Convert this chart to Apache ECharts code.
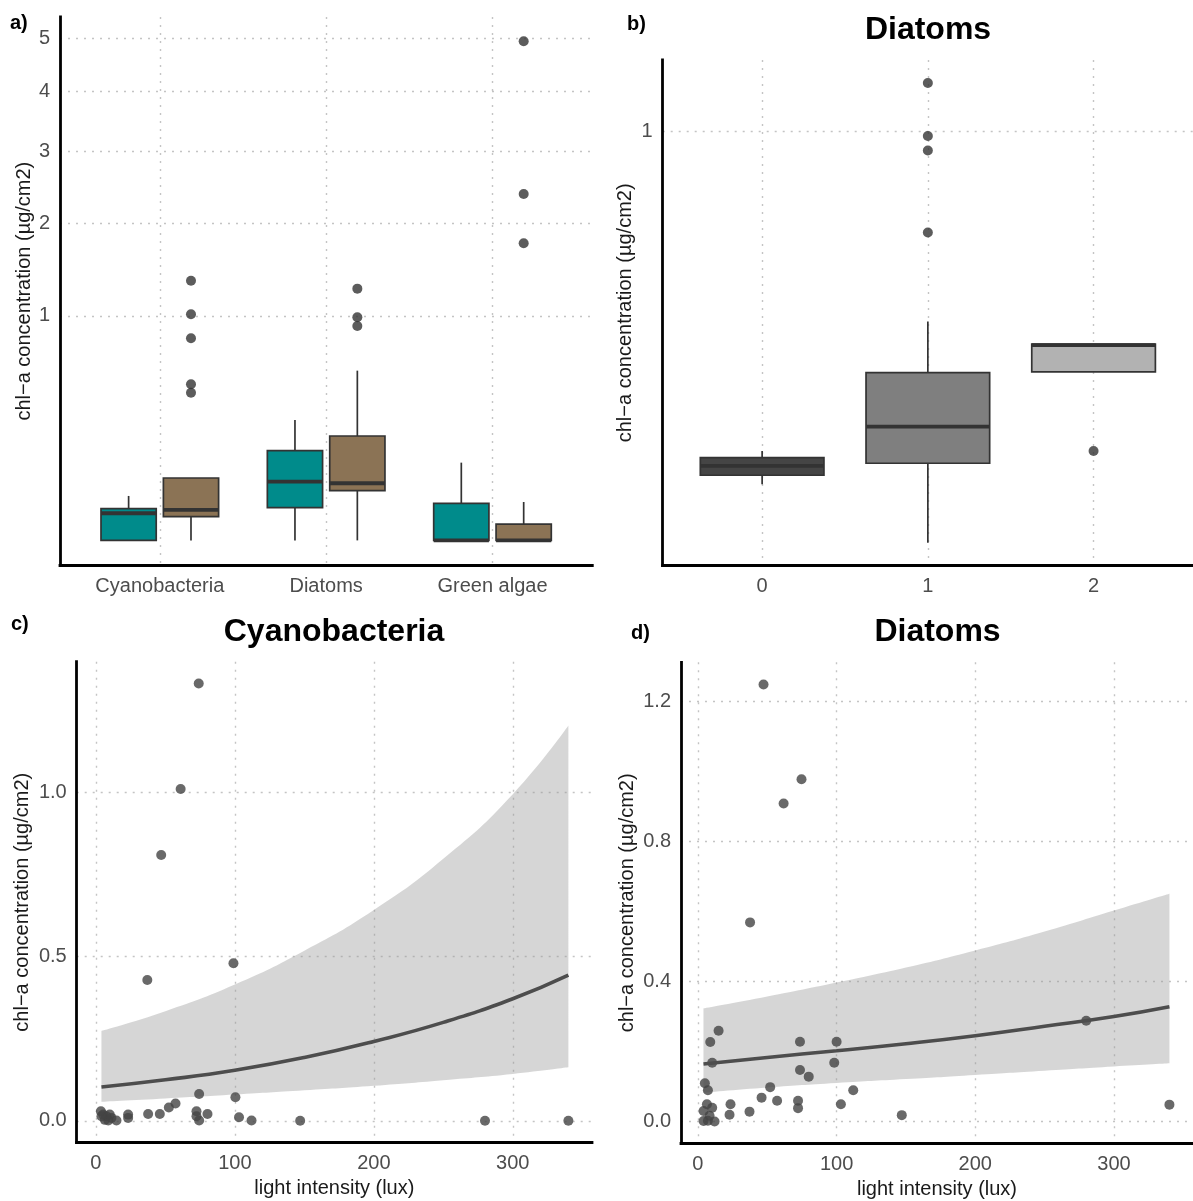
<!DOCTYPE html>
<html>
<head>
<meta charset="utf-8">
<script src="https://cdn.jsdelivr.net/npm/echarts@6/dist/echarts.min.js"></script>
<style>
  html, body { margin: 0; padding: 0; background: #ffffff; }
  #chart { width: 1193px; height: 1201px; }
</style>
</head>
<body>
<div id="chart"></div>
<script>
// ---------- Panel a: chl-a per algal group, two sample sets ----------
const groupsA = ['Cyanobacteria', 'Diatoms', 'Green algae'];
// five-number summaries: [lower whisker, Q1, median, Q3, upper whisker] (µg/cm2)
const tealStatsA = [
  [0, 0, 0.0146, 0.020, 0.0392],
  [0, 0.0212, 0.0684, 0.160, 0.288],
  [0, 0, 0, 0.0273, 0.120]
];
const brownStatsA = [
  [0, 0.0112, 0.0184, 0.0773, 0.0773],
  [0, 0.049, 0.0648, 0.2164, 0.572],
  [0, 0, 0, 0.0053, 0.0293]
];
const brownOutlierGroupA = [0, 0, 0, 0, 0, 1, 1, 1, 2, 2, 2];
const brownOutlierValueA = [1.339, 1.015, 0.811, 0.484, 0.433, 1.258, 0.988, 0.913, 4.947, 2.383, 1.753];
const yTicksA = [1, 2, 3, 4, 5];

// ---------- Panel b: diatoms per light level ----------
const levelsB = ['0', '1', '2'];
const statsB = [
  [0.0202, 0.0269, 0.0348, 0.0428, 0.0498],
  [0, 0.0373, 0.0797, 0.171, 0.289],
  [0.1725, 0.1725, 0.2307, 0.233, 0.233]
];
const outlierLevelB = [1, 1, 1, 1, 2];
const outlierValueB = [1.249, 0.978, 0.909, 0.569, 0.0498];
const yTicksB = [1];

// ---------- Panel c: cyanobacteria vs light ----------
const luxC = [74, 61, 47, 99, 37, 74.3, 100.4, 57.3, 52.5, 46, 37.6, 23.2, 23.2, 72.4, 72.4, 74.3, 80.3, 103, 112,
  147, 280, 340, 3.6, 5.3, 7.6, 10, 11.2, 6.5, 14.8, 8.9, 4];
const chlC = [1.332, 1.011, 0.81, 0.48, 0.429, 0.082, 0.072, 0.053, 0.0405, 0.021, 0.021, 0.019, 0.009, 0.029, 0.014, 0.001, 0.021, 0.011, 0.001,
  0, 0, 0, 0.029, 0.019, 0.014, 0.019, 0.009, 0.003, 0.001, 0.001, 0.014];
const fitLuxC = [4, 50, 100, 150, 200, 250, 300, 340];
const fitC = [0.103, 0.125, 0.154, 0.193, 0.242, 0.300, 0.372, 0.444];
const lowerC = [0.058, 0.068, 0.080, 0.093, 0.107, 0.124, 0.143, 0.163];
const upperC = [0.274, 0.334, 0.415, 0.518, 0.642, 0.798, 0.995, 1.204];
const yTicksC = [0, 0.5, 1.0];
const xTicksLux = [0, 100, 200, 300];

// ---------- Panel d: diatoms vs light ----------
const luxD = [47.3, 74.7, 61.8, 37.6, 280, 340, 147, 14.9, 8.9, 10.3, 73.6, 100, 98.3, 73.6, 79.9, 5, 7.2, 52.1, 45.9,
  57.1, 72.2, 72.2, 112, 103.1, 23.5, 22.8, 37.2, 6.5, 10.3, 4.1, 4.1, 7.2, 12, 8.4];
const chlD = [1.249, 0.978, 0.909, 0.569, 0.288, 0.048, 0.018, 0.259, 0.227, 0.168, 0.228, 0.228, 0.168, 0.147, 0.128, 0.109, 0.089, 0.098, 0.068,
  0.059, 0.059, 0.038, 0.089, 0.049, 0.049, 0.019, 0.028, 0.049, 0.039, 0.03, 0.001, 0.002, 0, 0.016];
const fitLuxD = [4, 50, 100, 150, 200, 250, 300, 340];
const fitD = [0.164, 0.183, 0.202, 0.222, 0.245, 0.272, 0.300, 0.328];
const lowerD = [0.082, 0.097, 0.110, 0.121, 0.133, 0.145, 0.157, 0.166];
const upperD = [0.323, 0.357, 0.397, 0.440, 0.489, 0.543, 0.603, 0.651];
const yTicksD = [0, 0.4, 0.8, 1.2];

// ---------- styling ----------
const FONT = '"Liberation Sans", Arial, Helvetica, sans-serif';
const TEAL = '#008b8b';
const BROWN = '#8b7355';
const GREYS_B = ['#454545', '#7f7f7f', '#b2b2b2'];
const INK = '#333333';
const POINT = '#444444';
const LABEL = '#4d4d4d';

const sq = Math.sqrt;
const zip = (xs, ys) => xs.map((x, i) => [x, ys[i]]);

function xAxisCfg(gridIndex, min, max, ticks, fmt, name) {
  return {
    type: 'value', gridIndex, min, max,
    name: name || '', nameLocation: 'middle', nameGap: 36,
    nameTextStyle: { fontFamily: FONT, fontSize: 20, color: '#1a1a1a' },
    axisLine: { show: true, onZero: false, lineStyle: { color: '#000', width: 2.8, cap: 'square' } },
    axisTick: { show: false, customValues: ticks },
    axisLabel: { customValues: ticks, formatter: fmt, margin: 11, fontFamily: FONT, fontSize: 20, color: LABEL },
    splitLine: { show: true, lineStyle: { color: '#c4c4c4', width: 1.4, type: [2, 6] } }
  };
}
function yAxisCfg(gridIndex, min, max, ticks, fmt, nameGap) {
  return {
    type: 'value', gridIndex, min, max,
    name: 'chl\u2212a concentration (\u00b5g/cm2)', nameLocation: 'middle', nameGap,
    nameTextStyle: { fontFamily: FONT, fontSize: 20, color: '#1a1a1a' },
    axisLine: { show: true, onZero: false, lineStyle: { color: '#000', width: 2.8, cap: 'square' } },
    axisTick: { show: false, customValues: ticks },
    axisLabel: { customValues: ticks, formatter: fmt, margin: 10, fontFamily: FONT, fontSize: 20, color: LABEL },
    splitLine: { show: true, lineStyle: { color: '#c4c4c4', width: 1.4, type: [2, 6] } }
  };
}

// box + whiskers drawn in data space through the axis scales (values already square-rooted)
function boxRenderer(offset, halfW, fillOf) {
  return function (params, api) {
    const x = api.value(0) + offset;
    const lo = api.value(1), q1 = api.value(2), med = api.value(3), q3 = api.value(4), hi = api.value(5);
    const tl = api.coord([x - halfW, q3]);
    const br = api.coord([x + halfW, q1]);
    const pHi = api.coord([x, hi]), pQ3 = api.coord([x, q3]);
    const pQ1 = api.coord([x, q1]), pLo = api.coord([x, lo]);
    const mL = api.coord([x - halfW, med]), mR = api.coord([x + halfW, med]);
    const thin = { stroke: INK, lineWidth: 1.7 };
    return {
      type: 'group',
      children: [
        { type: 'line', shape: { x1: pHi[0], y1: pHi[1], x2: pQ3[0], y2: pQ3[1] }, style: thin },
        { type: 'line', shape: { x1: pQ1[0], y1: pQ1[1], x2: pLo[0], y2: pLo[1] }, style: thin },
        { type: 'rect', shape: { x: tl[0], y: tl[1], width: br[0] - tl[0], height: br[1] - tl[1] },
          style: { fill: fillOf(params.dataIndex), stroke: INK, lineWidth: 1.7 } },
        { type: 'line', shape: { x1: mL[0], y1: mL[1], x2: mR[0], y2: mR[1] }, style: { stroke: INK, lineWidth: 3.8 } }
      ]
    };
  };
}
const boxData = stats => stats.map((s, i) => [i].concat(s.map(sq)));

// confidence band: the y column comes first so that the stack is applied to y
function ribbonSeries(idx, xs, lower, upper) {
  const common = {
    type: 'line', xAxisIndex: idx, yAxisIndex: idx, stack: 'band' + idx, smooth: true,
    symbol: 'none', silent: true, encode: { x: 1, y: 0 }, z: 1
  };
  return [
    Object.assign({}, common, { lineStyle: { opacity: 0 }, data: xs.map((x, i) => [lower[i], x]) }),
    Object.assign({}, common, {
      lineStyle: { opacity: 0 }, areaStyle: { color: 'rgba(153,153,153,0.4)', opacity: 1 },
      data: xs.map((x, i) => [upper[i] - lower[i], x])
    })
  ];
}

const textEl = (text, x, y, size, bold, align) => ({
  type: 'text', x, y,
  style: { text, fontFamily: FONT, fontSize: size, fontWeight: bold ? 'bold' : 'normal',
           fill: '#000', textAlign: align || 'center', textVerticalAlign: 'middle' }
});

const option = {
  animation: false,
  backgroundColor: '#ffffff',
  grid: [
    { left: 60, top: 17, width: 532.3, height: 548.3 },
    { left: 662.7, top: 60, width: 532, height: 505.7 },
    { left: 76.7, top: 661.7, width: 515.3, height: 481 },
    { left: 681, top: 662.3, width: 513.2, height: 481 }
  ],
  xAxis: [
    xAxisCfg(0, -0.6, 2.6, [0, 1, 2], v => groupsA[Math.round(v)]),
    xAxisCfg(1, -0.6, 2.6, [0, 1, 2], v => levelsB[Math.round(v)]),
    xAxisCfg(2, -13.8, 357, xTicksLux, v => String(v), 'light intensity (lux)'),
    xAxisCfg(3, -12.2, 357, xTicksLux, v => String(v), 'light intensity (lux)')
  ],
  yAxis: [
    yAxisCfg(0, -0.111, 2.332, yTicksA.map(sq), v => String(Math.round(v * v)), 26),
    yAxisCfg(1, -0.0559, 1.1735, yTicksB.map(sq), v => String(Math.round(v * v)), 27),
    yAxisCfg(2, -0.0666, 1.3986, yTicksC, v => v.toFixed(1), 44),
    yAxisCfg(3, -0.0625, 1.3125, yTicksD, v => v.toFixed(1), 44)
  ],
  graphic: { elements: [
    textEl('a)', 10, 23, 20, true, 'left'),
    textEl('b)', 627, 24, 20, true, 'left'),
    textEl('c)', 11, 624, 20, true, 'left'),
    textEl('d)', 631, 633, 20, true, 'left'),
    textEl('Diatoms', 928, 30, 32, true),
    textEl('Cyanobacteria', 334, 632, 32, true),
    textEl('Diatoms', 937.5, 632, 32, true)
  ] },
  series: [
    // panel a
    { type: 'custom', xAxisIndex: 0, yAxisIndex: 0, renderItem: boxRenderer(-0.1875, 0.166, () => TEAL),
      data: boxData(tealStatsA), z: 2 },
    { type: 'custom', xAxisIndex: 0, yAxisIndex: 0, renderItem: boxRenderer(0.1875, 0.166, () => BROWN),
      data: boxData(brownStatsA), z: 2 },
    { type: 'scatter', xAxisIndex: 0, yAxisIndex: 0, symbolSize: 10, itemStyle: { color: INK },
      data: brownOutlierGroupA.map((g, i) => [g + 0.1875, sq(brownOutlierValueA[i])]), z: 3 },
    // panel b
    { type: 'custom', xAxisIndex: 1, yAxisIndex: 1, renderItem: boxRenderer(0, 0.373, i => GREYS_B[i]),
      data: boxData(statsB), z: 2 },
    { type: 'scatter', xAxisIndex: 1, yAxisIndex: 1, symbolSize: 10, itemStyle: { color: INK },
      data: outlierLevelB.map((g, i) => [g, sq(outlierValueB[i])]), z: 3 },
    // panel c
    ...ribbonSeries(2, fitLuxC, lowerC, upperC),
    { type: 'scatter', xAxisIndex: 2, yAxisIndex: 2, symbolSize: 10, itemStyle: { color: POINT },
      data: zip(luxC, chlC), z: 3 },
    { type: 'line', xAxisIndex: 2, yAxisIndex: 2, smooth: true, symbol: 'none',
      lineStyle: { color: '#4d4d4d', width: 3.6 }, data: zip(fitLuxC, fitC), z: 4 },
    // panel d
    ...ribbonSeries(3, fitLuxD, lowerD, upperD),
    { type: 'scatter', xAxisIndex: 3, yAxisIndex: 3, symbolSize: 10, itemStyle: { color: POINT },
      data: zip(luxD, chlD), z: 3 },
    { type: 'line', xAxisIndex: 3, yAxisIndex: 3, smooth: true, symbol: 'none',
      lineStyle: { color: '#4d4d4d', width: 3.6 }, data: zip(fitLuxD, fitD), z: 4 }
  ]
};

const chart = echarts.init(document.getElementById('chart'), null, { renderer: 'canvas' });
chart.setOption(option);
</script>
</body>
</html>
